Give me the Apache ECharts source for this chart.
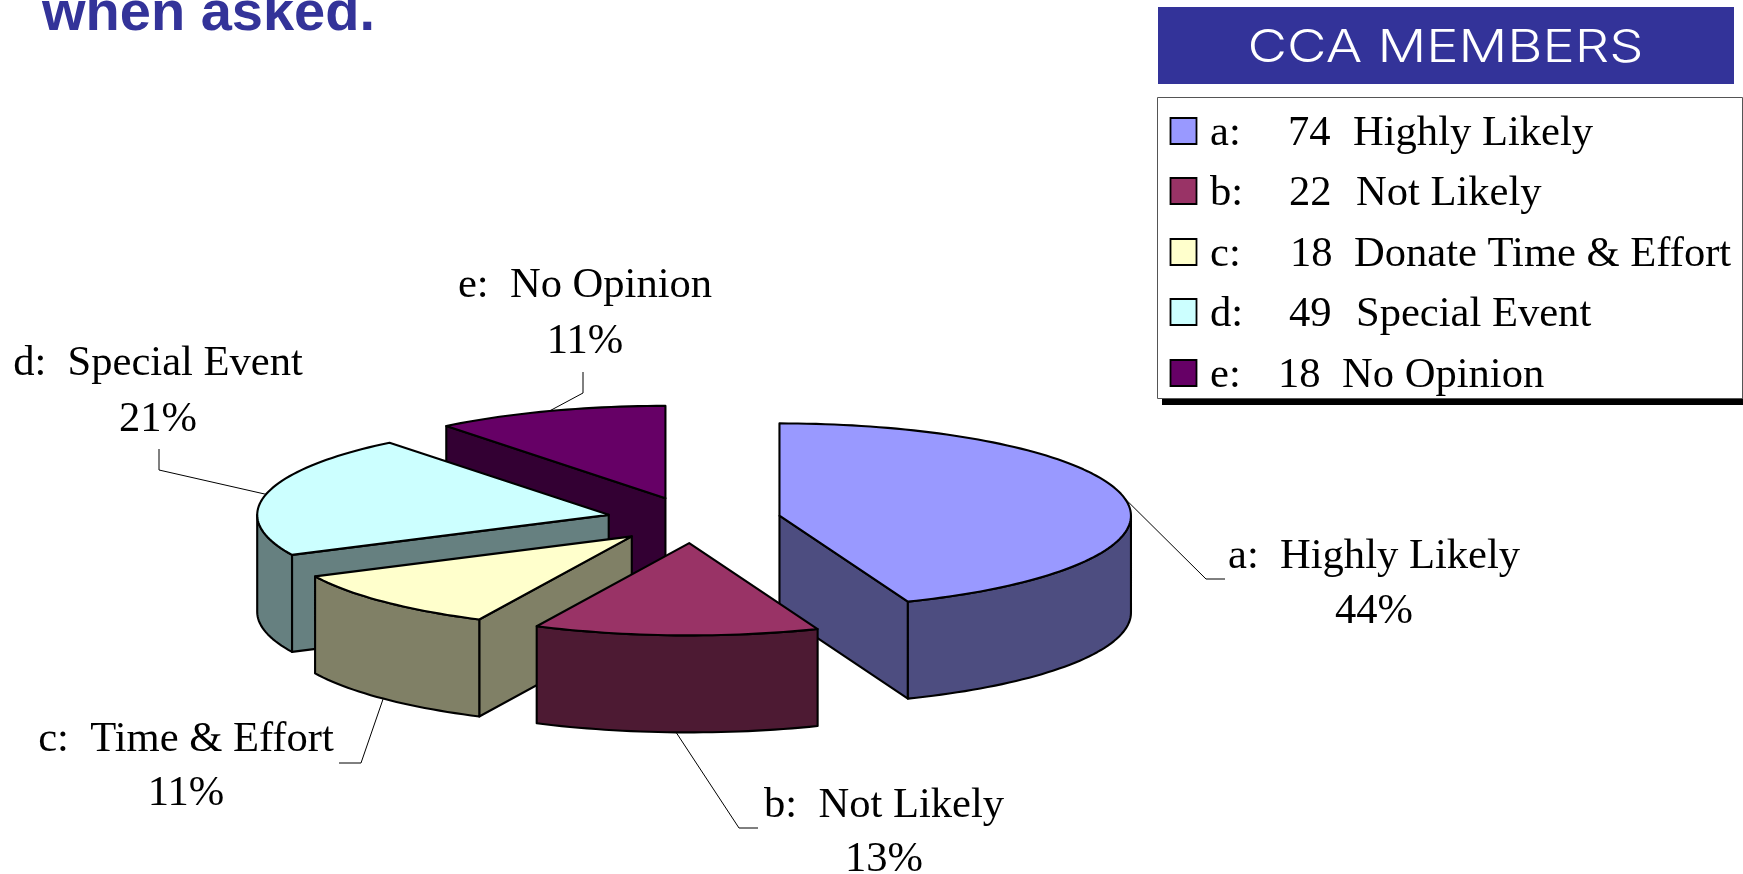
<!DOCTYPE html>
<html><head><meta charset="utf-8">
<style>html,body{margin:0;padding:0;background:#fff}#c{width:1743px;height:874px}</style>
<script src="https://cdn.jsdelivr.net/npm/echarts@6/dist/echarts.min.js"></script>
</head><body><div id="c"></div>
<script>
// ---- data ----
const sliceKeys = ['a','b','c','d','e'];
const sliceValues = [74,22,18,36,18]; // sizes of the drawn wedges (d read from its wedge / 21% label)
const slicePercent = [44,13,11,21,11];
const sliceNames = ['Highly Likely','Not Likely','Time & Effort','Special Event','No Opinion'];
const legendCounts = [74,22,18,49,18];
const legendNames = ['Highly Likely','Not Likely','Donate Time & Effort','Special Event','No Opinion'];
const topColors = ['#9999FF','#993366','#FFFFCC','#CCFFFF','#660066'];
const sideColors = ['#4D4D80','#4D1A33','#808066','#668080','#330033'];
const titleText = 'when asked.';
const headerText = 'CCA MEMBERS';

// ---- layout ----
const W=1743,H=874;
const CX=693,CY=520,RX=351.5,RY=92.3,EXPLODE=88,TILT=RY/RX,DEPTH=97;
const apexShift=[0,-0.5,1,1.5,1.5];
const drawOrder=[4,3,2,0,1];
const SERIF='"Liberation Serif","Times New Roman",serif';
const FS=43,SX=0.99,BASE=0.3*41-2;
const labelLayout=[
 {cx:1374,y1:567,y2:622,elbow:[[1206,579],[1225,579]]},
 {cx:884,y1:816,y2:870,elbow:[[739,828],[758,828]]},
 {cx:186,y1:750,y2:804,elbow:[[361,763],[339,763]]},
 {cx:158,y1:374,y2:430,elbow:[[159,470],[159,449]]},
 {cx:585,y1:296,y2:352,elbow:[[583,393],[583,372]]}
];
const legendRowBase=[144,204,265,325,386];
const legendKeyX=[1210,1210,1210,1210,1210];
const legendNumX=[1288,1289,1290,1289,1278];
const legendNameX=[1353,1356,1354,1356,1342];

// angle ranges (clockwise from north, degrees)
const total=sliceValues.reduce((a,b)=>a+b,0);
let acc=0;
const ranges=sliceValues.map(v=>{const s=acc/total*360;acc+=v;return [s,acc/total*360];});
const rad=d=>d*Math.PI/180;
function apex(i){
  const m=rad((ranges[i][0]+ranges[i][1])/2);
  return [CX+apexShift[i]+EXPLODE*Math.sin(m),CY-EXPLODE*TILT*Math.cos(m)];
}
function rim(i,d,drop){
  const a=apex(i);
  return [a[0]+RX*Math.sin(rad(d)),a[1]-RY*Math.cos(rad(d))+(drop||0)];
}
function arc(i,from,to,drop){
  const out=[],n=Math.max(2,Math.ceil((to-from)/1.5));
  for(let k=0;k<=n;k++) out.push(rim(i,from+(to-from)*k/n,drop));
  return out;
}
const edge={stroke:'#000',lineWidth:2.1,lineJoin:'round'};
function poly(points,fill){return {type:'polygon',shape:{points},style:Object.assign({fill},edge),silent:true};}
function txt(s,x,base,opt){
  opt=opt||{};
  return {type:'text',x,y:base-(opt.base===undefined?BASE:opt.base),scaleX:opt.sx||SX,silent:true,
    style:{text:s,x:0,y:0,fill:opt.fill||'#000',font:opt.font||(FS+'px '+SERIF),
      textAlign:opt.align||'left',textVerticalAlign:'middle'}};
}
function renderSlice(params,api){
  const i=api.value(0);
  const [t1,t2]=ranges[i];
  const a=apex(i),ad=[a[0],a[1]+DEPTH];
  const kids=[];
  const mid=(t1+t2)/2, front=Math.cos(rad(mid))<0&&Math.abs(mid-180)<60;
  const anchor=rim(i,mid,front?DEPTH:0);
  const lay=labelLayout[i];
  kids.push({type:'polyline',shape:{points:[anchor].concat(lay.elbow)},style:{stroke:'#000',lineWidth:1,fill:null},silent:true});
  if(Math.sin(rad(t1))<-1e-6){const r=rim(i,t1),rd=rim(i,t1,DEPTH);kids.push(poly([a,r,rd,ad],sideColors[i]));}
  if(Math.sin(rad(t2))>1e-6){const r=rim(i,t2),rd=rim(i,t2,DEPTH);kids.push(poly([a,r,rd,ad],sideColors[i]));}
  const w1=Math.max(t1,90),w2=Math.min(t2,270);
  if(w2>w1) kids.push(poly(arc(i,w1,w2,0).concat(arc(i,w1,w2,DEPTH).reverse()),sideColors[i]));
  kids.push(poly([a].concat(arc(i,t1,t2,0)),topColors[i]));
  return {type:'group',children:kids};
}
function renderLabel(params,api){
  const i=api.value(0),lay=labelLayout[i];
  return {type:'group',children:[
    txt(sliceKeys[i]+':\u00a0\u00a0'+sliceNames[i],lay.cx,lay.y1,{align:'center'}),
    txt(api.value(1)+'%',lay.cx,lay.y2,{align:'center'})
  ]};
}
const graphics=[
 txt(titleText,42,31,{font:'bold 56px "Liberation Sans",Arial,sans-serif',fill:'#333399',sx:1,base:0.3*56}),
 {type:'rect',shape:{x:1158,y:7,width:576,height:77},style:{fill:'#333399'},silent:true},
 txt(headerText,1445.5,62,{font:'300 45px Inter,"Liberation Sans",sans-serif',fill:'#fff',align:'center',sx:1.205,base:0.3*46}),
 {type:'rect',shape:{x:1162,y:398,width:581,height:7},style:{fill:'#000'},silent:true},
 {type:'rect',shape:{x:1157.5,y:97.5,width:585,height:301},style:{fill:'#fff',stroke:'#555',lineWidth:1},silent:true}
];
sliceKeys.forEach((k,i)=>{
  const b=legendRowBase[i];
  graphics.push({type:'rect',shape:{x:1170.5,y:b-26,width:26,height:26},style:{fill:topColors[i],stroke:'#000',lineWidth:1.8},silent:true});
  graphics.push(txt(k+':',legendKeyX[i],b));
  graphics.push(txt(String(legendCounts[i]),legendNumX[i],b));
  graphics.push(txt(legendNames[i],legendNameX[i],b));
});
const chart=echarts.init(document.getElementById('c'),null,{renderer:'canvas',width:W,height:H});
chart.setOption({
  backgroundColor:'#fff',animation:false,
  graphic:{elements:graphics},
  series:[
   {type:'custom',coordinateSystem:'none',renderItem:renderSlice,silent:true,
    data:drawOrder.map(i=>[i,sliceValues[i]])},
   {type:'custom',coordinateSystem:'none',renderItem:renderLabel,silent:true,
    data:sliceKeys.map((k,i)=>[i,slicePercent[i]])}
  ]
});
</script></body></html>
